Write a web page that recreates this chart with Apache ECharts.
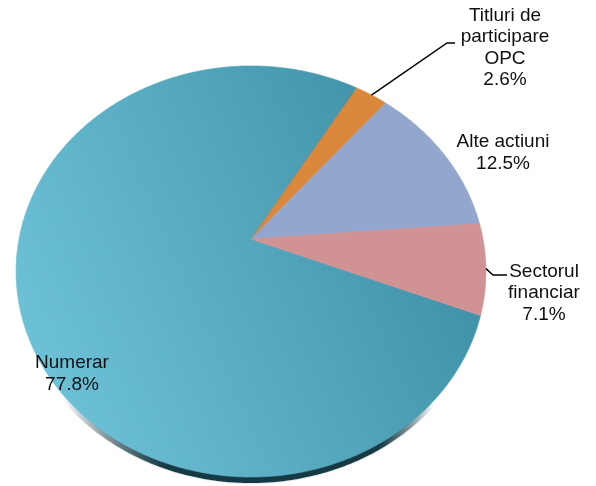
<!DOCTYPE html>
<html>
<head>
<meta charset="utf-8">
<script src="https://cdn.jsdelivr.net/npm/echarts@6/dist/echarts.min.js"></script>
<style>
  html, body { margin: 0; padding: 0; background: #fff; }
  #main { width: 596px; height: 486px; }
</style>
</head>
<body>
<div id="main"></div>
<script>
// data
const names = ['Numerar', 'Titluri de\nparticipare\nOPC', 'Alte actiuni', 'Sectorul\nfinanciar'];
const values = [77.8, 2.6, 12.5, 7.1];

// look
const colors = [
  { type: 'linear', x: 0, y: 0.75, x2: 1, y2: 0.25,
    colorStops: [{ offset: 0, color: '#70c4da' }, { offset: 1, color: '#3a8ca2' }] },
  '#db873c', '#93a6cd', '#d09294'
];
const rimColor = {
  type: 'linear', x: 0, y: 0, x2: 1, y2: 0,
  colorStops: [
    { offset: 0.1, color: 'rgba(22,58,68,0)' },
    { offset: 0.32, color: 'rgba(22,58,68,1)' },
    { offset: 0.78, color: 'rgba(22,58,68,1)' },
    { offset: 0.9, color: 'rgba(22,58,68,0)' }
  ]
};
// label anchors (text block centre) and leader line points
const labelAt = [
  { x: 72, y: 374, line: null },
  { x: 505, y: 48, line: [[447, 43], [455, 43]] },
  { x: 503, y: 153, line: null },
  { x: 544, y: 293, line: [[493, 275], [507, 275]] }
];

// tilted (perspective) pie geometry
const CX = 251, CY = 239;      // apex
const A = 200.4, G = 232, E = 0.158;
const START = 21.1 * Math.PI / 180;
const RIM = 6;

function proj(t, k) {
  const s = Math.sin(t), c = Math.cos(t);
  const w = 1 - E * k * s;
  return [CX + G * k * c / w, CY + A * k * s / w];
}

const total = values.reduce((a, b) => a + b, 0);

function renderItem(params, api) {
  const i = params.dataIndex;
  let before = 0;
  for (let j = 0; j < i; j++) before += values[j];
  const t0 = START + before / total * Math.PI * 2;
  const t1 = t0 + api.value(0) / total * Math.PI * 2;
  const pts = [[CX, CY]];
  const n = Math.max(2, Math.ceil((t1 - t0) / (Math.PI / 360)));
  for (let j = 0; j <= n; j++) pts.push(proj(t0 + (t1 - t0) * j / n, 1));

  const kids = [];
  const fill = colors[i];
  if (i === 0) {
    // darker side edge seen under the front of the pie
    kids.push({
      type: 'polygon',
      shape: { points: pts.map(p => [p[0], p[1] + RIM]) },
      style: { fill: rimColor, shadowBlur: 2, shadowColor: 'rgba(22,58,68,0.4)' }
    });
  }
  kids.push({
    type: 'polygon',
    shape: { points: pts },
    style: { fill: fill, stroke: fill, lineWidth: 0.6 }
  });

  const lab = labelAt[i];
  if (lab.line) {
    const edge = proj((t0 + t1) / 2, 1);
    kids.push({
      type: 'polyline',
      shape: { points: [edge].concat(lab.line) },
      style: { stroke: '#000', lineWidth: 1.5, fill: null }
    });
  }
  kids.push({
    type: 'text',
    x: lab.x, y: lab.y,
    style: {
      text: names[i] + '\n' + api.value(0).toFixed(1) + '%',
      fill: '#111',
      fontSize: 19,
      fontFamily: '"Liberation Sans", Arial, sans-serif',
      lineHeight: 21.5,
      align: 'center',
      verticalAlign: 'middle'
    }
  });
  return { type: 'group', children: kids };
}

const chart = echarts.init(document.getElementById('main'));
chart.setOption({
  backgroundColor: '#fff',
  animation: false,
  series: [{
    type: 'custom',
    coordinateSystem: 'none',
    renderItem: renderItem,
    data: values.map((v, i) => ({ name: names[i], value: v }))
  }]
});
</script>
</body>
</html>
